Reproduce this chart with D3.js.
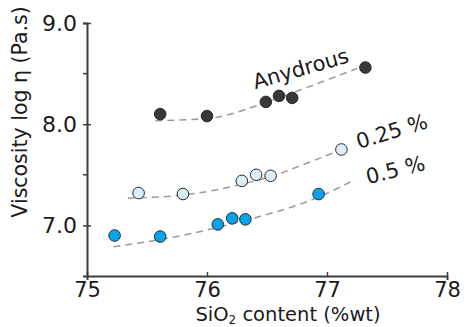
<!DOCTYPE html>
<html>
<head>
<meta charset="utf-8">
<script src="https://cdn.jsdelivr.net/npm/d3@7/dist/d3.min.js"></script>
<style>
  html, body { margin: 0; padding: 0; background: #fff; }
  svg { display: block; font-family: "DejaVu Sans", Verdana, sans-serif; }
</style>
</head>
<body>
<svg id="chart" width="467" height="327"></svg>
<script>
// Measured melt viscosity against silica content, for three water contents
const anhydrousSiO2 = [75.61, 76.0, 76.49, 76.60, 76.71, 77.32];
const anhydrousVisc = [8.10, 8.08, 8.22, 8.28, 8.26, 8.56];

const water025SiO2 = [75.43, 75.80, 76.29, 76.41, 76.53, 77.12];
const water025Visc = [7.32, 7.31, 7.44, 7.50, 7.49, 7.75];

const water05SiO2 = [75.23, 75.61, 76.09, 76.21, 76.32, 76.93];
const water05Visc = [6.90, 6.89, 7.01, 7.07, 7.06, 7.31];

// Trend curves (dashed), sampled along each fit
const anhydrousFitSiO2 = [75.57, 76.0, 76.48, 76.78, 77.25];
const anhydrousFitVisc = [8.035, 8.055, 8.21, 8.34, 8.55];

const water025FitSiO2 = [75.34, 75.80, 76.30, 76.55, 76.80, 77.08];
const water025FitVisc = [7.27, 7.30, 7.41, 7.49, 7.60, 7.73];

const water05FitSiO2 = [75.22, 75.61, 76.09, 76.32, 76.93, 77.23];
const water05FitVisc = [6.79, 6.86, 6.98, 7.05, 7.28, 7.45];

const seriesNames = ["Anydrous", "0.25 %", "0.5 %"];

const xTicks = [75, 76, 77, 78];
const yTicks = [7.0, 8.0, 9.0];
const yMinorTicks = [7.5, 8.5];

const svg = d3.select("#chart");

const x = d3.scaleLinear().domain([75, 78]).range([87, 447]);
const y = d3.scaleLinear().domain([6.5, 9.0]).range([276, 23]);

const axisColor = "#3c3c3c";

// ---- dashed trend curves ----
const line = d3.line()
  .x(d => x(d[0]))
  .y(d => y(d[1]))
  .curve(d3.curveMonotoneX);

const fits = [
  d3.zip(anhydrousFitSiO2, anhydrousFitVisc),
  d3.zip(water025FitSiO2, water025FitVisc),
  d3.zip(water05FitSiO2, water05FitVisc)
];

svg.append("g").selectAll("path")
  .data(fits)
  .join("path")
  .attr("d", line)
  .attr("fill", "none")
  .attr("stroke", "#9a9a9a")
  .attr("stroke-width", 1.5)
  .attr("stroke-dasharray", "7,5");

// ---- data points ----
const groups = [
  { pts: d3.zip(anhydrousSiO2, anhydrousVisc), fill: "#383838" },
  { pts: d3.zip(water025SiO2, water025Visc), fill: "#deedfb" },
  { pts: d3.zip(water05SiO2, water05Visc), fill: "#07a3ea" }
];

groups.forEach(g => {
  svg.append("g").selectAll("circle")
    .data(g.pts)
    .join("circle")
    .attr("cx", d => x(d[0]))
    .attr("cy", d => y(d[1]))
    .attr("r", 5.8)
    .attr("fill", g.fill)
    .attr("stroke", "#2a2a2a")
    .attr("stroke-width", 1);
});

// ---- curve labels, set along each trend ----
const labelPos = [
  { sx: 76.78, vy: 8.55, rot: -16 },
  { sx: 77.54, vy: 7.93, rot: -17 },
  { sx: 77.57, vy: 7.55, rot: -14 }
];
svg.append("g").selectAll("text")
  .data(seriesNames)
  .join("text")
  .attr("transform", (d, i) => `translate(${x(labelPos[i].sx)},${y(labelPos[i].vy)}) rotate(${labelPos[i].rot})`)
  .attr("text-anchor", "middle")
  .attr("dy", "0.35em")
  .attr("font-size", 21)
  .attr("fill", "#1a1a1a")
  .text(d => d);

// ---- axes ----
const xAxis = svg.append("g")
  .attr("transform", `translate(0,${y(6.5)})`)
  .call(d3.axisBottom(x).tickValues(xTicks).tickFormat(d3.format("d")).tickSize(4).tickPadding(2));
xAxis.select(".domain").attr("stroke", axisColor).attr("stroke-width", 2);
xAxis.selectAll(".tick line").attr("stroke", axisColor).attr("stroke-width", 1.5)
  .attr("y1", -4).attr("y2", 1);
xAxis.selectAll(".tick text").attr("font-size", 21).attr("fill", "#1a1a1a")
  .attr("font-family", "DejaVu Sans, sans-serif").attr("dy", "0.72em");

const yAxis = svg.append("g")
  .attr("transform", `translate(${x(75)},0)`)
  .call(d3.axisLeft(y).tickValues(yTicks).tickFormat(d3.format(".1f")).tickSize(4).tickPadding(6));
yAxis.select(".domain").attr("stroke", axisColor).attr("stroke-width", 2);
yAxis.selectAll(".tick line").attr("stroke", axisColor).attr("stroke-width", 1.5)
  .attr("x1", -4).attr("x2", 4);
yAxis.selectAll(".tick text").attr("font-size", 22).attr("fill", "#1a1a1a")
  .attr("font-family", "DejaVu Sans, sans-serif");

// minor ticks on the viscosity axis
svg.append("g").selectAll("line")
  .data(yMinorTicks)
  .join("line")
  .attr("x1", x(75) - 4).attr("x2", x(75))
  .attr("y1", d => y(d)).attr("y2", d => y(d))
  .attr("stroke", axisColor).attr("stroke-width", 1.5);

// ---- axis titles ----
const xTitle = svg.append("text")
  .attr("x", 288).attr("y", 321)
  .attr("text-anchor", "middle")
  .attr("font-size", 19.5)
  .attr("fill", "#1a1a1a");
xTitle.append("tspan").text("SiO");
xTitle.append("tspan").attr("font-size", 12).attr("dy", 3).text("2");
xTitle.append("tspan").attr("dy", -3).text(" content (%wt)");

svg.append("text")
  .attr("transform", "translate(27,112) rotate(-90)")
  .attr("text-anchor", "middle")
  .attr("font-size", 20.5)
  .attr("fill", "#1a1a1a")
  .text("Viscosity log η (Pa.s)");
</script>
</body>
</html>
